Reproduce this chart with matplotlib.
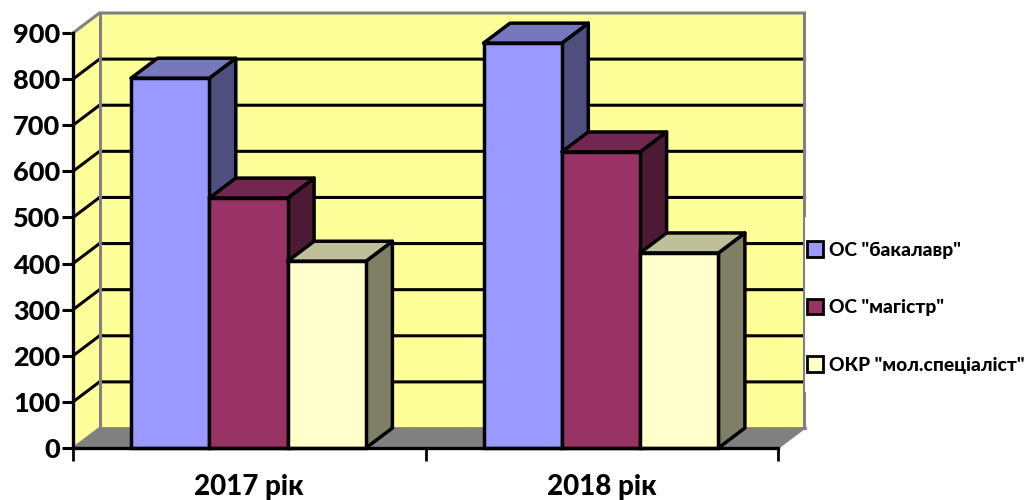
import matplotlib
matplotlib.use("Agg")
import matplotlib.pyplot as plt
from matplotlib.patches import Polygon, Patch, Rectangle

plt.rcParams['font.family'] = ['Lato', 'Open Sans', 'DejaVu Sans']
plt.rcParams['font.weight'] = 900

categories = ['2017 рік', '2018 рік']
series_names = ['ОС "бакалавр"', 'ОС "магістр"', 'ОКР "мол.спеціаліст"']
bakalavr = [802, 878]
magistr = [542, 642]
molspec = [405, 423]
series_values = [bakalavr, magistr, molspec]
y_ticks = [0, 100, 200, 300, 400, 500, 600, 700, 800, 900]

front_colors = ['#9999FF', '#993366', '#FFFFCC']
top_colors = ['#7777BD', '#732650', '#BFBF99']
side_colors = ['#4F4F7F', '#4D1A33', '#7F7F66']
WALL = '#FFFF99'
FLOOR = '#808080'

W, H = 1027, 500
fig = plt.figure(figsize=(W / 100, H / 100), dpi=100, facecolor='white')
ax = fig.add_axes([73 / W, (H - 448) / H, 705 / W, 415 / H])
ax.set_xlim(0, 2)
ax.set_ylim(0, 900)
ax.patch.set_visible(False)

px_x = 2 / 705
px_y = 900 / 415
dx = 26.5 * px_x
dy = 20 * px_y

# walls and floor
ax.add_patch(Polygon([(dx, dy), (2 + dx, dy), (2 + dx, 900 + dy), (dx, 900 + dy)],
                     fc=WALL, ec='none', clip_on=False, zorder=1))
ax.add_patch(Polygon([(0, 0), (dx, dy), (dx, 900 + dy), (0, 900)],
                     fc=WALL, ec='none', clip_on=False, zorder=1))
ax.add_patch(Polygon([(0, 0), (2, 0), (2 + dx, dy), (dx, dy)],
                     fc=FLOOR, ec='none', clip_on=False, zorder=1))

# gridlines
for v in y_ticks[1:-1]:
    ax.plot([0, dx, 2 + dx], [v, v + dy, v + dy], color='black', lw=2.2,
            clip_on=False, zorder=2, solid_joinstyle='miter')

# wall edges
ax.plot([0, dx, 2 + dx, 2 + dx], [900, 900 + dy, 900 + dy, dy], color='#808080', lw=2.2,
        clip_on=False, zorder=3, solid_joinstyle='miter')
ax.plot([dx, dx], [dy, 900 + dy], color='#808080', lw=2.2, clip_on=False, zorder=3)
ax.plot([dx, 2 + dx], [dy, dy], color='#808080', lw=2.0, clip_on=False, zorder=3)
ax.plot([0, dx], [0, dy], color='#808080', lw=1.5, clip_on=False, zorder=3)
ax.plot([2, 2 + dx], [0, dy], color='#808080', lw=1.5, clip_on=False, zorder=3)

# legend background hides the right wall edge
fig.add_artist(Rectangle((804.5 / W, (H - 392) / H), 222 / W, 175 / H, transform=fig.transFigure,
                         fc='white', ec='none', zorder=4))

# bars
bar_w = 78.3 * px_x
start = 58 * px_x
z = 5
for c in range(len(categories)):
    for s, vals in enumerate(series_values):
        x0 = c + start + s * bar_w
        x1 = x0 + bar_w
        v = vals[c]
        edge = dict(ec='black', lw=2.5, joinstyle='round', clip_on=False, zorder=z)
        ax.add_patch(Polygon([(x1, 0), (x1 + dx, dy), (x1 + dx, v + dy), (x1, v)],
                             fc=side_colors[s], **edge))
        ax.add_patch(Polygon([(x0, v), (x1, v), (x1 + dx, v + dy), (x0 + dx, v + dy)],
                             fc=top_colors[s], **edge))
        ax.bar([x0], [v], width=bar_w, align='edge', color=front_colors[s],
               edgecolor='black', linewidth=2.5, clip_on=False, zorder=z)
        z += 1

# axes
for name in ('top', 'right'):
    ax.spines[name].set_visible(False)
for name in ('left', 'bottom'):
    ax.spines[name].set_linewidth(2.4)
    ax.spines[name].set_zorder(30)
ax.set_yticks(y_ticks)
ax.set_xticks([0, 1, 2])
ax.set_xticklabels([])
ax.set_xticks([0.5, 1.5], minor=True)
ax.set_xticklabels(categories, minor=True, fontsize=20, fontweight=900)
ax.tick_params(axis='y', length=8, width=2.2, labelsize=19.5, pad=1)
ax.tick_params(axis='x', which='major', length=9, width=2.0)
ax.tick_params(axis='x', which='minor', length=0, pad=19)

# legend
handles = [Patch(fc=front_colors[i], ec='black', lw=2) for i in range(3)]
leg = fig.legend(handles, series_names, loc='center left',
                 bbox_to_anchor=(801 / W, (H - 307.5) / H), frameon=False,
                 fontsize=13.8, handlelength=0.85, handleheight=0.85, handletextpad=0.3,
                 labelspacing=2.1, borderpad=0, borderaxespad=0.3)
leg.set_zorder(40)

fig.savefig('out.png', dpi=100, facecolor='white')
